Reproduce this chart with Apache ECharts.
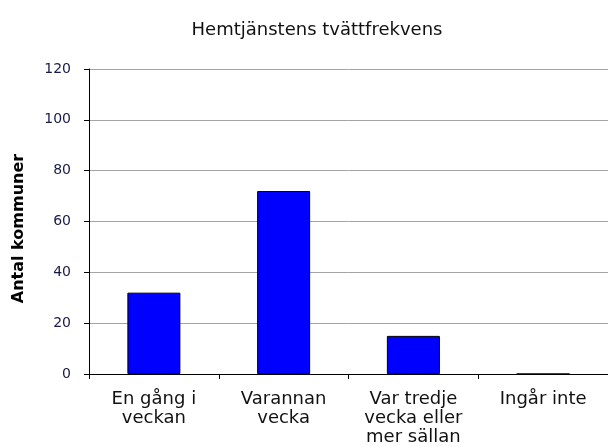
<!DOCTYPE html>
<html><head><meta charset="utf-8">
<script src="https://cdn.jsdelivr.net/npm/echarts@6/dist/echarts.min.js"></script>
<style>html,body{margin:0;padding:0;background:#fff}#c{width:608px;height:447px}</style>
</head><body><div id="c"></div>
<script>
var categories = ['En gång i\nveckan', 'Varannan\nvecka', 'Var tredje\nvecka eller\nmer sällan', 'Ingår inte'];
var values = [32, 72, 15, 0];
var yTicks = [0, 20, 40, 60, 80, 100, 120];
var chart = echarts.init(document.getElementById('c'));
chart.setOption({
  animation: false,
  backgroundColor: '#fff',
  title: {
    text: 'Hemtjänstens tvättfrekvens', left: 312, top: 16, textAlign: 'center',
    textStyle: { fontFamily: 'DejaVu Sans', fontSize: 18, fontWeight: 'normal', color: '#111' }
  },
  grid: { left: 89, top: 69, width: 522, height: 305, containLabel: false },
  xAxis: {
    type: 'category', data: categories, boundaryGap: true,
    axisLine: { lineStyle: { color: '#000', width: 1 } },
    axisTick: { show: true, length: 5, inside: false, lineStyle: { color: '#000' } },
    axisLabel: { fontFamily: 'DejaVu Sans', fontSize: 18, color: '#111', margin: 16, lineHeight: 19, interval: 0 }
  },
  yAxis: {
    type: 'value', min: yTicks[0], max: yTicks[yTicks.length - 1], interval: 20,
    name: 'Antal kommuner', nameLocation: 'middle', nameGap: 62, nameRotate: 90,
    nameTextStyle: { fontFamily: 'DejaVu Sans', fontSize: 16, fontWeight: 'bold', color: '#000', padding: [0, 14, 0, 0] },
    axisLine: { show: true, lineStyle: { color: '#000', width: 1 } },
    axisTick: { show: true, length: 5, lineStyle: { color: '#000' } },
    axisLabel: { fontFamily: 'DejaVu Sans', fontSize: 14, color: '#1a1a4a', margin: 18 },
    splitLine: { show: true, lineStyle: { color: '#a4a4a4', width: 1 } }
  },
  series: [{
    type: 'bar', data: values, barWidth: 53,
    itemStyle: { color: '#0000ff', borderColor: '#000', borderWidth: 1 }
  }]
});
</script></body></html>
